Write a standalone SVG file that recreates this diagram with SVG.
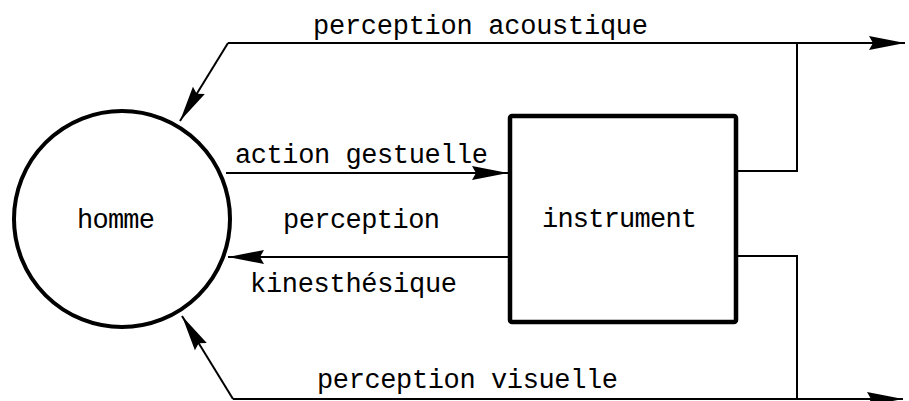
<svg xmlns="http://www.w3.org/2000/svg" width="909" height="401" viewBox="0 0 909 401">
<defs>
<marker id="ah" markerUnits="userSpaceOnUse" markerWidth="38" markerHeight="16" refX="36" refY="8" orient="auto">
<path d="M0,1 L36,8 L0,15 L4,8 z" fill="#000"/>
</marker>
<style>
.t{font-family:"Liberation Mono","DejaVu Sans Mono",monospace;font-size:27px;fill:#000}
.c{fill:none;stroke:#000;stroke-width:2}
</style>
</defs>
<rect width="909" height="401" fill="#fff"/>
<g id="connectors">
<path class="c" d="M226,173 L508,173" marker-end="url(#ah)"/>
<path class="c" d="M509,257 L228,257" marker-end="url(#ah)"/>
<path class="c" d="M228,43 L905,43" marker-end="url(#ah)"/>
<path class="c" d="M228,43 L180,121" marker-end="url(#ah)"/>
<path class="c" d="M737,171 L797,171 L797,43"/>
<path class="c" d="M737,256 L797,256 L797,399"/>
<path class="c" d="M233,399 L903,399" marker-end="url(#ah)"/>
<path class="c" d="M233,399 L182,316" marker-end="url(#ah)"/>
</g>
<g id="homme">
<circle cx="122" cy="219" r="108" fill="none" stroke="#000" stroke-width="4"/>
<text class="t" x="77" y="228" textLength="78">homme</text>
</g>
<g id="instrument">
<rect x="510" y="116" width="226" height="206" rx="2" fill="none" stroke="#000" stroke-width="4.5"/>
<text class="t" x="542" y="227" textLength="155">instrument</text>
</g>
<g id="labels">
<text class="t" x="313" y="34" textLength="335">perception acoustique</text>
<text class="t" x="235" y="163" textLength="253">action gestuelle</text>
<text class="t" x="283" y="228" textLength="157">perception</text>
<text class="t" x="250" y="292" textLength="207">kinesthésique</text>
<text class="t" x="317" y="388" textLength="301">perception visuelle</text>
</g>
</svg>
